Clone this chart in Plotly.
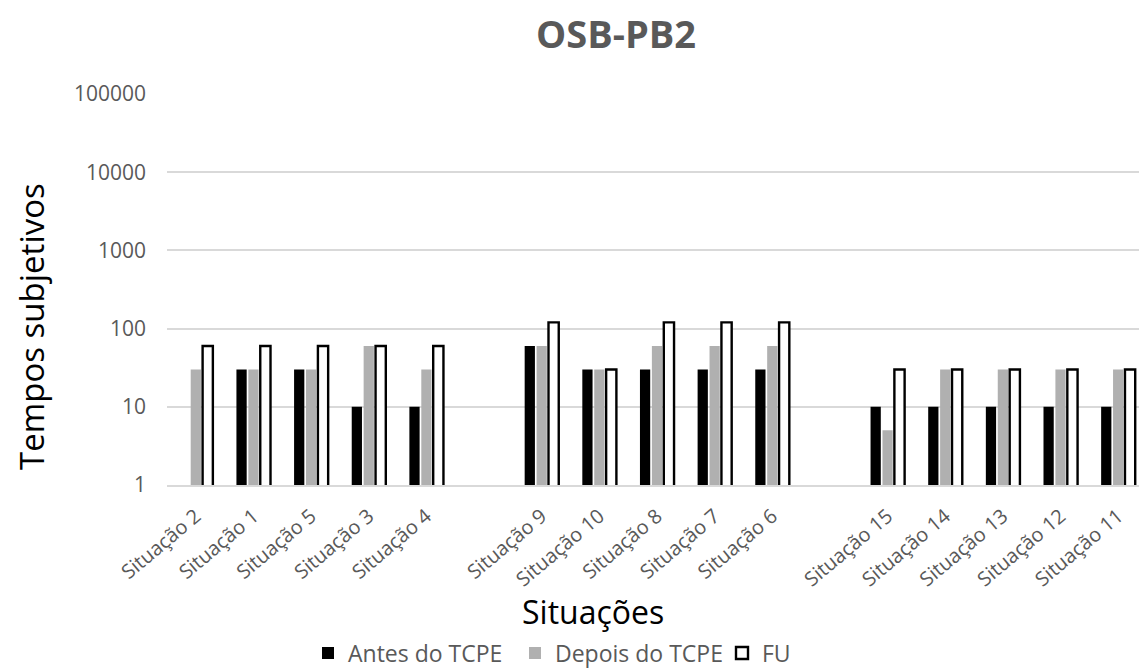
import plotly.graph_objects as go

situacoes = ["Situação 2", "Situação 1", "Situação 5", "Situação 3", "Situação 4",
             "Situação 9", "Situação 10", "Situação 8", "Situação 7", "Situação 6",
             "Situação 15", "Situação 14", "Situação 13", "Situação 12", "Situação 11"]
antes = [None, 30, 30, 10, 10, 60, 30, 30, 30, 30, 10, 10, 10, 10, 10]
depois = [30, 30, 30, 60, 30, 60, 30, 60, 60, 60, 5, 30, 30, 30, 30]
fu = [60, 60, 60, 60, 60, 120, 30, 120, 120, 120, 30, 30, 30, 30, 30]

# positions with gaps between the three blocks
pos = []
p = 0
for i in range(len(situacoes)):
    if i in (5, 10):
        p += 1
    pos.append(p)
    p += 1

font_main = "Open Sans, Liberation Sans, sans-serif"

W, H = 1139, 661
L, R, T, B = 159, 0, 86, 184
pw, ph = W - L - R, H - T - B


def px(x):
    return (x - 8 - L) / pw


def py(y):
    return (H - B - (y - 8)) / ph


fig = go.Figure()
fig.add_bar(x=pos, y=antes, name="Antes do TCPE",
            marker=dict(color="black", line=dict(color="black", width=0)))
fig.add_bar(x=pos, y=depois, name="Depois do TCPE",
            marker=dict(color="#b0b0b0", line=dict(color="#b0b0b0", width=0)))
fig.add_bar(x=pos, y=fu, name="FU",
            marker=dict(color="white", line=dict(color="black", width=2.4)))

fig.update_layout(
    width=W, height=H,
    paper_bgcolor="white", plot_bgcolor="white",
    barmode="group", bargap=0.38, bargroupgap=0.14,
    margin=dict(l=L, r=R, t=T, b=B, autoexpand=False),
    title=dict(text="<b>OSB-PB2</b>", x=(616 - 8) / W, xanchor="center", y=1 - (35 - 8) / H, yanchor="middle",
               font=dict(family=font_main, size=38, color="#595959")),
    font=dict(family=font_main, color="#595959"),
    legend=dict(orientation="h", x=px(308), xanchor="left", y=py(653), yanchor="middle",
                font=dict(size=23, color="#595959"), itemwidth=30, traceorder="normal",
                entrywidth=162, entrywidthmode="pixels"),
    showlegend=True,
)
fig.add_annotation(text="Situações", xref="paper", yref="paper", x=px(593), y=py(611),
                   xanchor="center", yanchor="middle", showarrow=False,
                   font=dict(family=font_main, size=32, color="black"))
fig.add_annotation(text="Tempos subjetivos", xref="paper", yref="paper", x=px(31), y=py(327),
                   xanchor="center", yanchor="middle", showarrow=False, textangle=-90,
                   font=dict(family=font_main, size=33, color="black"))
fig.update_xaxes(
    tickmode="array", tickvals=pos, ticktext=situacoes, tickangle=-40,
    range=[-0.5, pos[-1] + 0.5], showgrid=False, zeroline=False, automargin=False,
    showline=True, linecolor="#d9d9d9", linewidth=1.5, ticks="",
    tickfont=dict(size=20, color="#595959"), ticklabelstandoff=10,
)
fig.update_yaxes(
    type="log", range=[0, 5], tickvals=[1, 10, 100, 1000, 10000, 100000],
    ticktext=["1", "10", "100", "1000", "10000", "100000"], automargin=False,
    showgrid=True, gridcolor="#d9d9d9", gridwidth=1.5, zeroline=False,
    tickfont=dict(size=21, color="#595959"), ticks="", ticklabelstandoff=20,
)
fig.write_html("out.html")
